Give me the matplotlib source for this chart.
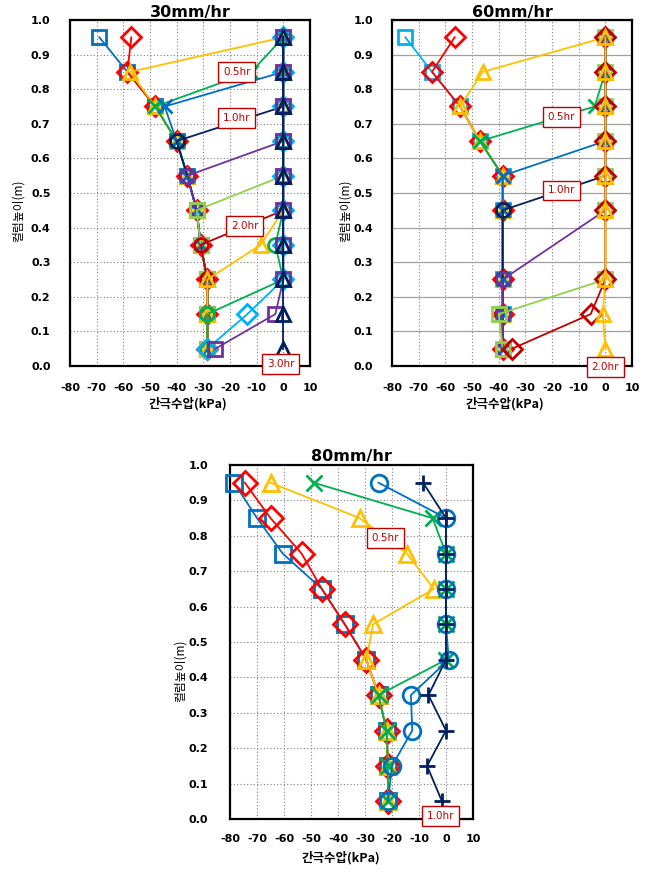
"""Pore water pressure profiles in a soil column for three rainfall intensities."""

import matplotlib

matplotlib.use("Agg")
import matplotlib.pyplot as plt

plt.rcParams["font.family"] = ["DejaVu Sans", "Noto Sans CJK KR"]

KR_FONT = ["Noto Sans CJK KR", "DejaVu Sans"]

# column heights (m)
HEIGHTS = [0.95, 0.85, 0.75, 0.65, 0.55, 0.45, 0.35, 0.25, 0.15, 0.05]
HEIGHTS_60 = [0.95, 0.85, 0.75, 0.65, 0.55, 0.45, 0.25, 0.15, 0.05]

TITLES = ["30mm/hr", "60mm/hr", "80mm/hr"]
X_TICKS = [-80, -70, -60, -50, -40, -30, -20, -10, 0, 10]
Y_TICKS = [0.0, 0.1, 0.2, 0.3, 0.4, 0.5, 0.6, 0.7, 0.8, 0.9, 1.0]

# 30 mm/hr, pore pressure (kPa) per time step, top to bottom
p30_s01 = [-69, -58.5, -48, -40, -36, -32.5, -31, -28.5, -28.5, -28.5]
p30_s02 = [-57, -58.5, -48, -40, -36, -32.5, -31, -28.5, -28.5, -28.5]
p30_s03 = [0, -57.5, -48, -40, -36, -32.5, -31, -28.5, -28.5, -28.5]
p30_s04 = [0, -12, -48, -40, -36, -32.5, -31, -28.5, -28.5, -28.5]
p30_s05 = [0, 0, -44.5, -40, -36, -32.5, -31, -28.5, -28.5, -28.5]
p30_s06 = [0, 0, 0, -40, -36, -32.5, -31, -28.5, -28.5, -28.5]
p30_s07 = [0, 0, 0, 0, -36, -32.5, -31, -28.5, -28.5, -28.5]
p30_s08 = [0, 0, 0, 0, 0, -32.5, -31, -28.5, -28.5, -28.5]
p30_s09 = [0, 0, 0, 0, 0, 0, -31, -28.5, -28.5, -28.5]
p30_s10 = [0, 0, 0, 0, 0, 0, -8.5, -28.5, -28.5, -28.5]
p30_s11 = [0, 0, 0, 0, 0, 0, -3, 0, -28.5, -28.5]
p30_s12 = [0, 0, 0, 0, 0, 0, 0, 0, -13.5, -28.5]
p30_s13 = [0, 0, 0, 0, 0, 0, 0, 0, -3, -25.5]
p30_s14 = [0, 0, 0, 0, 0, 0, 0, 0, 0, 0]

# 60 mm/hr (no sensor at 0.35 m)
p60_s01 = [-75, -65, -54.5, -47, -38.5, -38.5, -38.5, -38.5, -38.5]
p60_s02 = [-56.5, -65, -54.5, -47, -38.5, -38.5, -38.5, -38.5, -38.5]
p60_s03 = [0, -46, -54.5, -47, -38.5, -38.5, -38.5, -38.5, -38.5]
p60_s04 = [0, 0, -4, -47, -38.5, -38.5, -38.5, -38.5, -38.5]
p60_s05 = [0, 0, 0, 0, -38.5, -38.5, -38.5, -38.5, -38.5]
p60_s06 = [0, 0, 0, 0, 0, -38.5, -38.5, -38.5, -38.5]
p60_s07 = [0, 0, 0, 0, 0, 0, -38.5, -38.5, -38.5]
p60_s08 = [0, 0, 0, 0, 0, 0, 0, -40, -38.5]
p60_s09 = [0, 0, 0, 0, 0, 0, 0, -5.5, -35]
p60_s10 = [0, 0, 0, 0, 0, 0, 0, -1, 0]

# 80 mm/hr
p80_s01 = [-78.5, -70, -60.5, -46, -37.5, -29.5, -25, -22, -21.5, -21.5]
p80_s02 = [-74.5, -65, -53.5, -46, -37.5, -29.5, -25, -22, -21.5, -21.5]
p80_s03 = [-65, -32, -14.5, -4.5, -27, -29.5, -25, -22, -21.5, -21.5]
p80_s04 = [-49, -5, 0, 0, 0, 0, -25, -22, -21.5, -21.5]
p80_s05 = [-25, 0, 0, 0, 0, 1, -13, -12.5, -20, -21.5]
p80_s06 = [-8.5, 0, 0, 0, 0, 0, -6.5, 0, -7, -1.5]

TIME_LABELS_30 = ["0.5hr", "1.0hr", "2.0hr", "3.0hr"]
TIME_LABELS_60 = ["0.5hr", "1.0hr", "2.0hr"]
TIME_LABELS_80 = ["0.5hr", "1.0hr"]

BLUE = "#0070C0"
RED = "#FF0000"
YELLOW = "#FFC000"
GREEN = "#00B050"
NAVY = "#002060"
PURPLE = "#7030A0"
LGREEN = "#92D050"
DRED = "#C00000"
CYAN = "#00B0F0"


def draw_series(ax, heights, series, ms):
    for values, color, marker in series:
        ax.plot(values, heights, color=color, lw=1.3, marker=marker, ms=ms,
                mfc="none", mec=color, mew=2.0, clip_on=False, zorder=3)


def time_label(ax, x, y, text):
    ax.text(x, y, text, ha="center", va="center", fontsize=7.5, color=DRED,
            zorder=5, bbox=dict(boxstyle="square,pad=0.45", fc="white", ec=DRED, lw=1.0))


def style_axes(ax, title, solid_hgrid, xpad, ypad, xlab_pos, ylab_pos, title_pad):
    ax.set_xlim(-80, 10)
    ax.set_ylim(0, 1.0)
    ax.set_xticks(X_TICKS)
    ax.set_yticks(Y_TICKS)
    ax.set_xticklabels([str(t) for t in X_TICKS])
    ax.set_yticklabels([f"{t:.1f}" for t in Y_TICKS])
    ax.tick_params(axis="x", length=0, pad=xpad, labelsize=8)
    ax.tick_params(axis="y", length=0, pad=ypad, labelsize=8)
    for lab in ax.get_xticklabels() + ax.get_yticklabels():
        lab.set_fontweight("bold")
    ax.xaxis.grid(True, color="#808080", lw=0.8, ls=(0, (1, 2)))
    if solid_hgrid:
        ax.yaxis.grid(True, color="#A0A0A0", lw=0.9, ls="-")
    else:
        ax.yaxis.grid(True, color="#808080", lw=0.8, ls=(0, (1, 2)))
    ax.set_axisbelow(True)
    for spine in ax.spines.values():
        spine.set_color("black")
        spine.set_linewidth(1.6)
    ax.set_title(title, fontsize=11.5, fontweight="bold", pad=title_pad)
    ax.set_xlabel("간극수압(kPa)", family=KR_FONT, fontsize=9, fontweight="bold")
    ax.set_ylabel("컬럼높이(m)", family=KR_FONT, fontsize=8.5)
    ax.xaxis.set_label_coords(*xlab_pos)
    ax.yaxis.set_label_coords(*ylab_pos)


def main():
    fig = plt.figure(figsize=(6.55, 8.73), dpi=100)
    ax30 = fig.add_axes([70 / 655, 507 / 873, 240 / 655, 346 / 873])
    ax60 = fig.add_axes([392 / 655, 507 / 873, 240 / 655, 346 / 873])
    ax80 = fig.add_axes([230 / 655, 54 / 873, 243 / 655, 354 / 873])

    draw_series(ax30, HEIGHTS, [
        (p30_s01, BLUE, "s"), (p30_s02, RED, "D"), (p30_s03, YELLOW, "^"),
        (p30_s04, GREEN, "x"), (p30_s05, BLUE, "x"), (p30_s06, NAVY, "o"),
        (p30_s07, PURPLE, "o"), (p30_s08, LGREEN, "s"), (p30_s09, DRED, "o"),
        (p30_s10, YELLOW, "^"), (p30_s11, GREEN, "o"), (p30_s12, CYAN, "D"),
        (p30_s13, PURPLE, "s"), (p30_s14, NAVY, "^"),
    ], ms=10)
    style_axes(ax30, TITLES[0], False, 12, 14, (0.49, -0.09), (-0.19, 0.45), 1.5)
    for (x, y), text in zip([(-17.5, 0.85), (-17.5, 0.717), (-14.5, 0.405), (-1, 0.006)],
                            TIME_LABELS_30):
        time_label(ax30, x, y, text)

    draw_series(ax60, HEIGHTS_60, [
        (p60_s01, CYAN, "s"), (p60_s02, RED, "D"), (p60_s03, YELLOW, "^"),
        (p60_s04, GREEN, "x"), (p60_s05, BLUE, "x"), (p60_s06, NAVY, "o"),
        (p60_s07, PURPLE, "o"), (p60_s08, LGREEN, "s"), (p60_s09, DRED, "D"),
        (p60_s10, YELLOW, "^"),
    ], ms=10)
    style_axes(ax60, TITLES[1], True, 12, 13.5, (0.47, -0.09), (-0.17, 0.45), 1.5)
    for (x, y), text in zip([(-16.5, 0.72), (-16.5, 0.508), (0, -0.003)], TIME_LABELS_60):
        time_label(ax60, x, y, text)

    draw_series(ax80, HEIGHTS, [
        (p80_s01, BLUE, "s"), (p80_s02, RED, "D"), (p80_s03, YELLOW, "^"),
        (p80_s04, GREEN, "x"), (p80_s05, BLUE, "o"), (p80_s06, NAVY, "+"),
    ], ms=12)
    style_axes(ax80, TITLES[2], False, 11, 15.5, (0.455, -0.09), (-0.18, 0.42), 3)
    for (x, y), text in zip([(-22.5, 0.794), (-2, 0.008)], TIME_LABELS_80):
        time_label(ax80, x, y, text)

    fig.savefig("out.png", dpi=100)
    plt.close(fig)


if __name__ == "__main__":
    main()
